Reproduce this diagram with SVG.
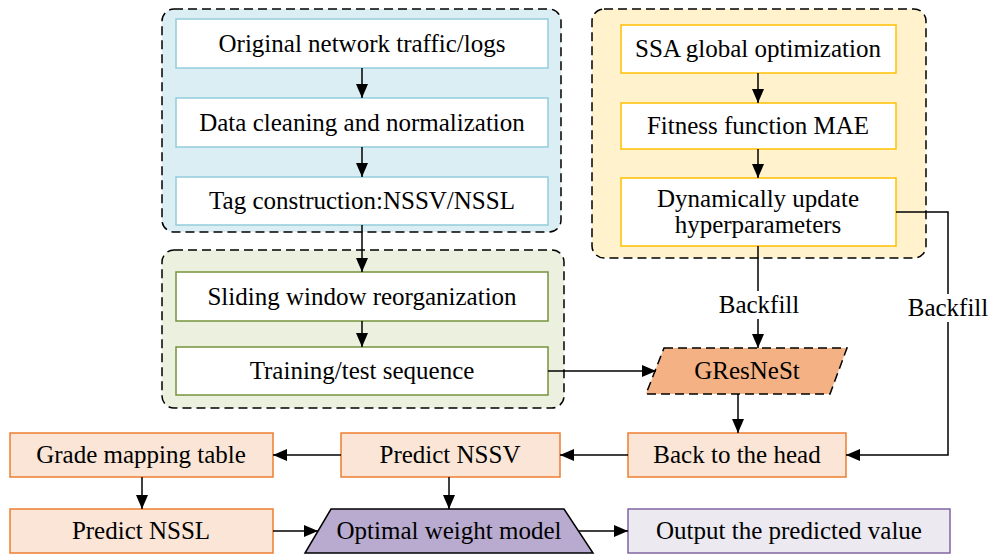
<svg xmlns="http://www.w3.org/2000/svg" width="990" height="555" viewBox="0 0 990 555">
<defs>
<marker id="ah" markerWidth="14" markerHeight="12" refX="14" refY="6" orient="auto" markerUnits="userSpaceOnUse"><path d="M0,0 L14,6 L0,12 Z" fill="#000"/></marker>
<style>
text{font-family:'Liberation Serif','Times New Roman',serif;font-size:25px;fill:#000;text-anchor:middle}
.grp{stroke:#000;stroke-width:1.5;stroke-dasharray:9,5}
.bl{fill:#fff;stroke:#92CDDC;stroke-width:1.5}
.gr{fill:#fff;stroke:#77933C;stroke-width:1.5}
.ye{fill:#fff;stroke:#FFC000;stroke-width:1.5}
.or{fill:#FBE5D6;stroke:#ED7D31;stroke-width:1.5}
.ar{fill:none;stroke:#000;stroke-width:1.5;marker-end:url(#ah)}
</style>
</defs>
<rect class="grp" x="162" y="9" width="399" height="223" rx="12" fill="#DAEEF3"/>
<rect class="grp" x="162" y="250" width="402" height="158" rx="12" fill="#EBF1DE"/>
<rect class="grp" x="592" y="9" width="334" height="249" rx="12" fill="#FFF2CC"/>
<g id="n1"><rect class="bl" x="176" y="19" width="372" height="49"/><text x="362" y="52">Original network traffic/logs</text></g>
<g id="n2"><rect class="bl" x="176" y="98" width="372" height="49"/><text x="362" y="131">Data cleaning and normalization</text></g>
<g id="n3"><rect class="bl" x="176" y="177" width="372" height="48"/><text x="362" y="209">Tag construction:NSSV/NSSL</text></g>
<g id="n4"><rect class="gr" x="176" y="272" width="372" height="49"/><text x="362" y="305">Sliding window reorganization</text></g>
<g id="n5"><rect class="gr" x="176" y="347" width="372" height="48"/><text x="362" y="379">Training/test sequence</text></g>
<g id="n6"><rect class="ye" x="621" y="25" width="275" height="48"/><text x="758" y="57">SSA global optimization</text></g>
<g id="n7"><rect class="ye" x="621" y="103" width="275" height="46"/><text x="758" y="134">Fitness function MAE</text></g>
<g id="n8"><rect class="ye" x="621" y="178" width="275" height="68"/><text x="758" y="207">Dynamically update</text><text x="758" y="233">hyperparameters</text></g>
<g id="n9"><path d="M664,348 L847,348 L830,394 L646,394 Z" fill="#F4B183" class="grp"/><text x="747" y="379">GResNeSt</text></g>
<g id="n10"><rect class="or" x="628" y="433" width="218" height="44"/><text x="737" y="463">Back to the head</text></g>
<g id="n11"><rect class="or" x="341" y="433" width="219" height="44"/><text x="450" y="463">Predict NSSV</text></g>
<g id="n12"><rect class="or" x="10" y="433" width="263" height="44"/><text x="141" y="463">Grade mapping table</text></g>
<g id="n13"><rect class="or" x="10" y="509" width="263" height="44"/><text x="141" y="539">Predict NSSL</text></g>
<g id="n14"><path d="M331,509 L564,509 L593,553 L305,553 Z" fill="#B9ABCF" stroke="#000" stroke-width="1.5"/><text x="449" y="539">Optimal weight model</text></g>
<g id="n15"><rect x="628" y="509" width="322" height="44" fill="#ECE9F1" stroke="#8064A2" stroke-width="1.5"/><text x="789" y="539">Output the predicted value</text></g>
<g id="connectors">
<line class="ar" x1="362" y1="68" x2="362" y2="98"/>
<line class="ar" x1="362" y1="147" x2="362" y2="177"/>
<line class="ar" x1="362" y1="225" x2="362" y2="272"/>
<line class="ar" x1="362" y1="321" x2="362" y2="347"/>
<line class="ar" x1="758" y1="73" x2="758" y2="103"/>
<line class="ar" x1="758" y1="149" x2="758" y2="178"/>
<line class="ar" x1="548" y1="371" x2="656" y2="371"/>
<line class="ar" x1="758" y1="246" x2="758" y2="348"/>
<rect x="716" y="291" width="86" height="28" fill="#fff"/>
<text x="759" y="313">Backfill</text>
<polyline class="ar" points="896,212 948,212 948,455 846,455"/>
<rect x="905" y="294" width="86" height="28" fill="#fff"/>
<text x="948" y="316">Backfill</text>
<line class="ar" x1="738" y1="394" x2="738" y2="433"/>
<line class="ar" x1="628" y1="455" x2="560" y2="455"/>
<line class="ar" x1="341" y1="455" x2="273" y2="455"/>
<line class="ar" x1="142" y1="477" x2="142" y2="509"/>
<line class="ar" x1="449" y1="477" x2="449" y2="509"/>
<line class="ar" x1="273" y1="531" x2="318" y2="531"/>
<line class="ar" x1="579" y1="531" x2="628" y2="531"/>
</g>
</svg>
